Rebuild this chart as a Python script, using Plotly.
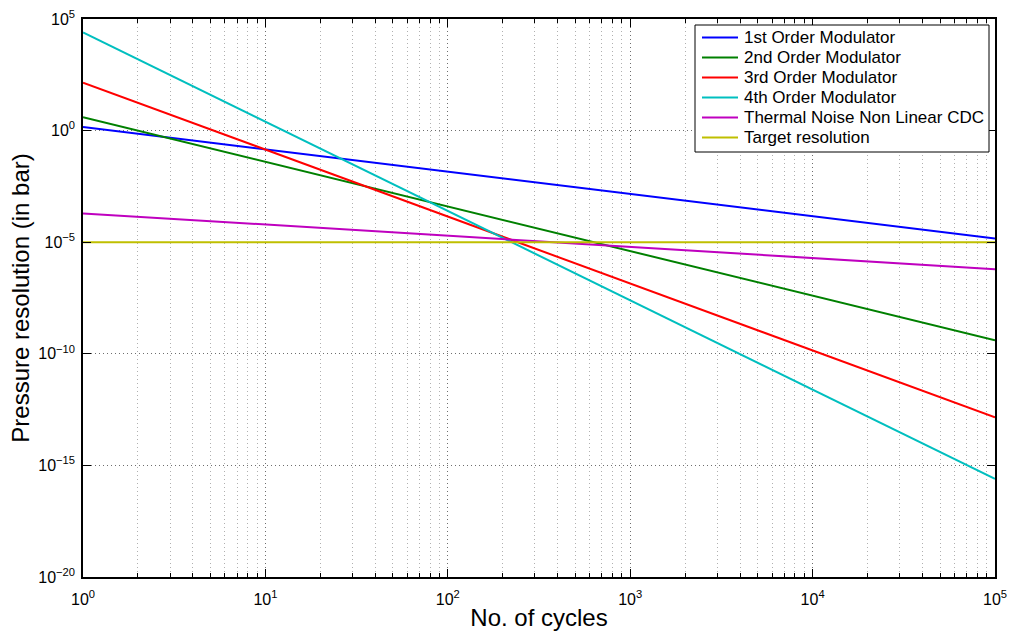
import plotly.graph_objects as go

# Data (straight lines on log-log axes, endpoints at N=1 and N=1e5)
cycles = [1, 1e5]
first_order = [1.45, 1.45e-5]
second_order = [4.0, 4.0e-10]
third_order = [141.0, 1.41e-13]
fourth_order = [2.5e4, 2.5e-16]
thermal_noise = [1.95e-4, 6.2e-7]
target = [1e-5, 1e-5]

series_names = ["1st Order Modulator", "2nd Order Modulator", "3rd Order Modulator",
                "4th Order Modulator", "Thermal Noise Non Linear CDC", "Target resolution"]
series_values = [first_order, second_order, third_order, fourth_order, thermal_noise, target]
series_colors = ["#0000FF", "#008000", "#FF0000", "#00BFBF", "#BF00BF", "#BFBF00"]

x_tick_exp = [0, 1, 2, 3, 4, 5]
y_tick_exp = [-20, -15, -10, -5, 0, 5]


def pow_label(e):
    s = str(abs(e))
    return "10<sup>" + ("\u2212" if e < 0 else "") + s + "</sup>"


fig = go.Figure()
for name, vals, col in zip(series_names, series_values, series_colors):
    fig.add_trace(go.Scatter(x=cycles, y=vals, mode="lines", name=name,
                             line=dict(color=col, width=2), showlegend=False))

font_family = "Liberation Sans, Arial, Helvetica, sans-serif"

# plot-area geometry in pixels (for the hand-drawn MATLAB-style legend)
W, H = 1010, 633
L, R, T, B = 83, 15, 19, 56
pw, ph = W - L - R, H - T - B


def px(xp):
    return (xp - L) / pw


def py(yp):
    return (H - B - yp) / ph


shapes = []
annotations = []
# legend box
shapes.append(dict(type="rect", xref="paper", yref="paper",
                   x0=px(695), x1=px(989), y0=py(152), y1=py(25),
                   line=dict(color="black", width=1), fillcolor="white", layer="above"))
for i, (name, col) in enumerate(zip(series_names, series_colors)):
    yc = 37.5 + 20 * i
    shapes.append(dict(type="line", xref="paper", yref="paper",
                       x0=px(702), x1=px(738), y0=py(yc), y1=py(yc),
                       line=dict(color=col, width=2), layer="above"))
    annotations.append(dict(text=name, xref="paper", yref="paper",
                            x=px(742), y=py(yc), xanchor="left", yanchor="middle",
                            showarrow=False, font=dict(size=17, family=font_family, color="black")))

fig.update_layout(
    width=W, height=H,
    margin=dict(l=L, r=R, t=T, b=B, autoexpand=False),
    paper_bgcolor="white", plot_bgcolor="white",
    font=dict(family=font_family, color="black", size=16),
    showlegend=False,
    shapes=shapes,
    annotations=annotations,
)

fig.update_xaxes(
    type="log", range=[0, 5], automargin=False,
    tickmode="array", tickvals=[10 ** e for e in x_tick_exp],
    ticktext=[pow_label(e) for e in x_tick_exp],
    ticks="inside", ticklen=8, tickcolor="black", tickwidth=1,
    showline=True, linecolor="black", linewidth=1.5, mirror="allticks",
    showgrid=True, gridcolor="#6e6e6e", gridwidth=1, griddash="1px,3px",
    minor=dict(ticks="inside", ticklen=4, tickcolor="black", dtick="D1",
               showgrid=True, gridcolor="#b0b0b0", gridwidth=1, griddash="1px,3px"),
    zeroline=False, ticklabelstandoff=7,
    title=dict(text="No. of cycles", font=dict(size=24, family=font_family), standoff=2),
    tickfont=dict(size=16, family=font_family),
)

fig.update_yaxes(
    type="log", range=[-20, 5], automargin=False,
    tickmode="array", tickvals=[10.0 ** e for e in y_tick_exp],
    ticktext=[pow_label(e) for e in y_tick_exp],
    ticks="inside", ticklen=8, tickcolor="black", tickwidth=1,
    showline=True, linecolor="black", linewidth=1.5, mirror="allticks",
    showgrid=True, gridcolor="#6e6e6e", gridwidth=1, griddash="1px,3px",
    zeroline=False, ticklabelstandoff=3,
    title=dict(text="Pressure resolution (in bar)", font=dict(size=24, family=font_family), standoff=2),
    tickfont=dict(size=16, family=font_family),
)

fig.write_html("out.html")
